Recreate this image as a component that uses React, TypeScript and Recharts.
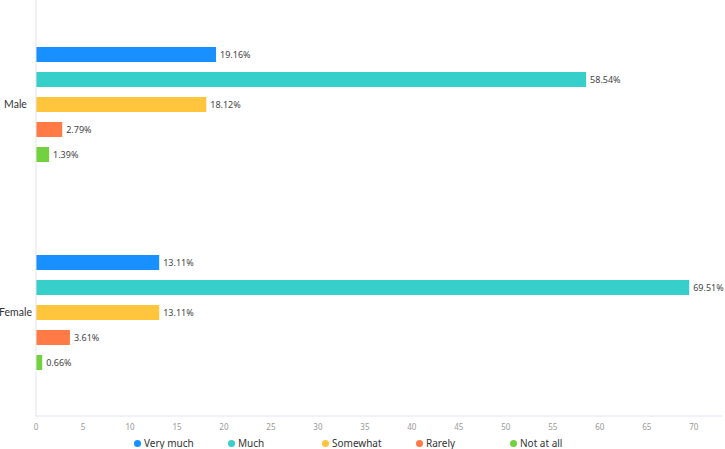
import { BarChart, Bar, XAxis, YAxis, Legend, LabelList } from 'recharts'

const categories = ['Male', 'Female']
const veryMuch = [19.16, 13.11]
const much = [58.54, 69.51]
const somewhat = [18.12, 13.11]
const rarely = [2.79, 3.61]
const notAtAll = [1.39, 0.66]
const xTicks = [0, 5, 10, 15, 20, 25, 30, 35, 40, 45, 50, 55, 60, 65, 70]

const series = [
  { key: 'veryMuch', name: 'Very much', color: '#1890ff', values: veryMuch },
  { key: 'much', name: 'Much', color: '#36cfc9', values: much },
  { key: 'somewhat', name: 'Somewhat', color: '#ffc53d', values: somewhat },
  { key: 'rarely', name: 'Rarely', color: '#ff7a45', values: rarely },
  { key: 'notAtAll', name: 'Not at all', color: '#73d13d', values: notAtAll },
]

const data = categories.map((c, i) => {
  const row: Record<string, string | number> = { category: c }
  series.forEach(s => { row[s.key] = s.values[i] })
  return row
})

const font = '"Noto Sans", "Open Sans", sans-serif'
const axisColor = '#e3e3f3'

// category names sit centred in the space left of the axis
function CategoryTick({ y, payload }: { y?: number; payload?: { value: string } }) {
  return (
    <text x={15.5} y={y} dy={4} textAnchor="middle" fontSize={10.5} fill="#333" fontFamily="Lato, sans-serif">
      {payload?.value}
    </text>
  )
}

function CustomLegend() {
  return (
    <div style={{ display: 'flex', paddingLeft: 134, paddingTop: 8, height: 12, alignItems: 'center', fontFamily: font, fontSize: 10, color: '#333' }}>
      {series.map(s => (
        <div key={s.key} style={{ width: 94, display: 'flex', alignItems: 'center' }}>
          <span style={{ width: 7, height: 7, borderRadius: '50%', background: s.color, display: 'inline-block', marginRight: 3 }} />
          <span>{s.name}</span>
        </div>
      ))}
    </div>
  )
}

export default function App() {
  return (
    <div style={{ position: 'absolute', left: 0, top: 0, background: '#fff' }}>
      <BarChart
        width={725}
        height={449}
        data={data}
        layout="vertical"
        margin={{ top: 0, right: 3, bottom: 0, left: 0 }}
        barSize={15}
        barGap={10}
      >
        <XAxis
          type="number"
          domain={[0, 73]}
          ticks={xTicks}
          axisLine={{ stroke: axisColor }}
          tickLine={false}
          height={13}
          tick={{ fontSize: 8, fill: '#999', fontFamily: font }}
          interval={0}
        />
        <YAxis
          type="category"
          dataKey="category"
          width={36}
          axisLine={{ stroke: axisColor }}
          tickLine={false}
          tick={<CategoryTick />}
        />
        <Legend verticalAlign="bottom" height={20} content={<CustomLegend />} />
        {series.map(s => (
          <Bar key={s.key} dataKey={s.key} name={s.name} fill={s.color} isAnimationActive={false}>
            <LabelList
              dataKey={s.key}
              position="right"
              offset={4}
              formatter={(v: number) => `${v.toFixed(2)}%`}
              style={{ fontSize: 9, fill: '#444', fontFamily: font }}
            />
          </Bar>
        ))}
      </BarChart>
    </div>
  )
}
